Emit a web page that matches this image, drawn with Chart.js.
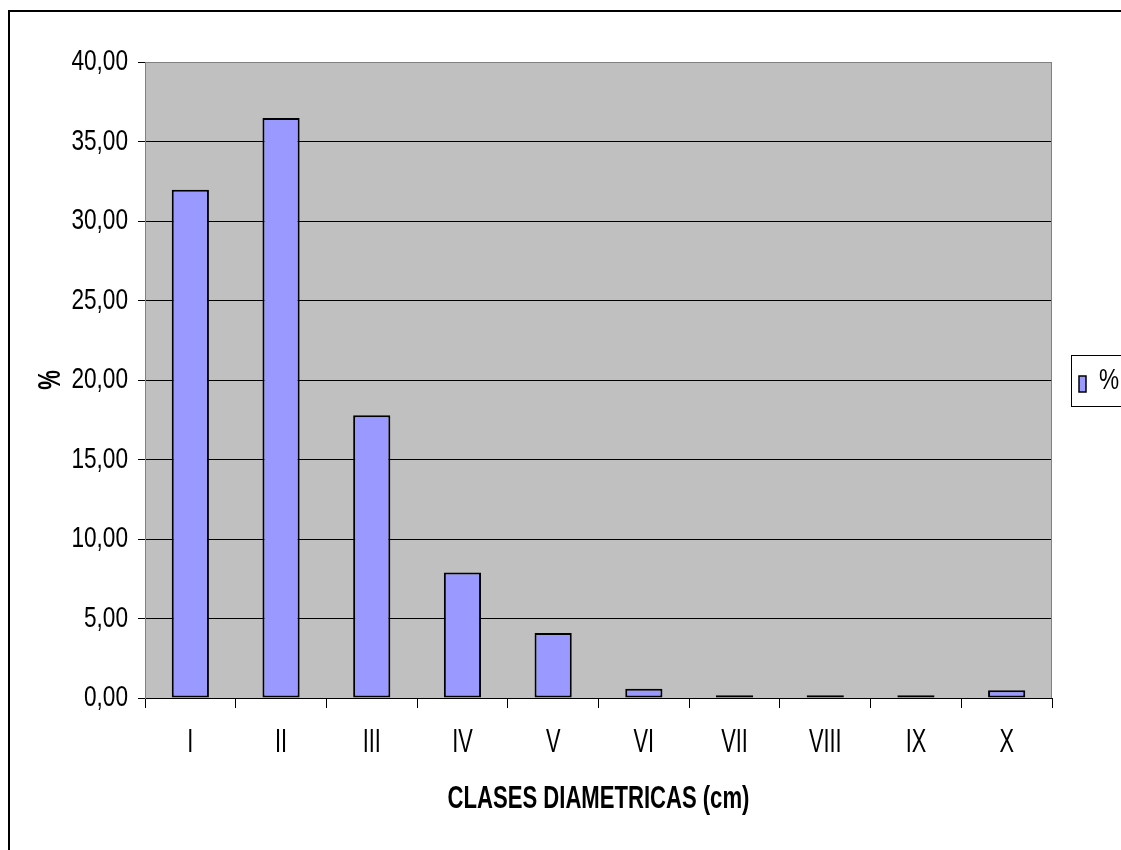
<!DOCTYPE html>
<html>
<head>
<meta charset="utf-8">
<script src="https://cdn.jsdelivr.net/npm/chart.js@4/dist/chart.umd.min.js"></script>
<style>
  html, body { margin: 0; padding: 0; background: #ffffff; }
  #wrap { position: relative; width: 1121px; height: 850px; overflow: hidden; }
  canvas { display: block; }
</style>
</head>
<body>
<div id="wrap"><canvas id="chart" width="1121" height="850"></canvas></div>
<script>
// Diameter classes and share of trees (%) in each class
const categories = ['I', 'II', 'III', 'IV', 'V', 'VI', 'VII', 'VIII', 'IX', 'X'];
const percentages = [31.97, 36.48, 17.78, 7.90, 4.09, 0.58, 0.18, 0.18, 0.18, 0.48];
const seriesName = '%';
const yTicksMin = 0;
const yTicksMax = 40;
const yTicksStep = 5;

const FONT = '"Liberation Sans", Arial, Helvetica, sans-serif';
// Sizes used for each text role (px)
const SIZE_Y_TICKS = 29;
const SIZE_X_TICKS = 33;
const SIZE_TITLES = 32;
// Horizontal condensing per font size, giving a narrow typeface look
const condense = { 29: 0.78, 33: 0.66, 32: 0.69 };

const canvas = document.getElementById('chart');
const context = canvas.getContext('2d');
const baseFillText = context.fillText.bind(context);
context.fillText = function (text, x, y, maxWidth) {
  const m = /(\d+(?:\.\d+)?)px/.exec(this.font);
  const k = m ? (condense[Math.round(parseFloat(m[1]))] || 1) : 1;
  if (k === 1) {
    return maxWidth === undefined ? baseFillText(text, x, y) : baseFillText(text, x, y, maxWidth);
  }
  this.save();
  this.translate(x, y);
  this.scale(k, 1);
  if (maxWidth === undefined) baseFillText(text, 0, 0);
  else baseFillText(text, 0, 0, maxWidth / k);
  this.restore();
};

// Frame, plot background and legend box drawn around the library's layout
const decorations = {
  id: 'decorations',
  beforeDraw(chart) {
    const { ctx, chartArea: a } = chart;
    ctx.save();
    ctx.fillStyle = '#ffffff';
    ctx.fillRect(0, 0, chart.width, chart.height);
    // outer chart frame
    ctx.strokeStyle = '#000000';
    ctx.lineWidth = 2;
    ctx.beginPath();
    ctx.moveTo(9, chart.height + 5);
    ctx.lineTo(9, 11);
    ctx.lineTo(chart.width + 5, 11);
    ctx.stroke();
    // plot area fill
    ctx.fillStyle = '#c0c0c0';
    ctx.fillRect(a.left, a.top, a.right - a.left, a.bottom - a.top);
    ctx.restore();
  },
  beforeDatasetsDraw(chart) {
    const { ctx, chartArea: a } = chart;
    ctx.save();
    ctx.strokeStyle = '#808080';
    ctx.lineWidth = 1;
    ctx.beginPath();
    ctx.moveTo(a.left + 0.5, a.top + 0.5);
    ctx.lineTo(a.right - 0.5, a.top + 0.5);
    ctx.lineTo(a.right - 0.5, a.bottom);
    ctx.stroke();
    ctx.restore();
  },
  afterDraw(chart) {
    const { ctx } = chart;
    const ds = chart.data.datasets[0];
    ctx.save();
    // legend box
    ctx.strokeStyle = '#000000';
    ctx.lineWidth = 1;
    ctx.strokeRect(1071.5, 355.5, 80, 51);
    // swatch
    ctx.fillStyle = ds.backgroundColor;
    ctx.fillRect(1079, 376, 7, 16);
    ctx.lineWidth = 1.5;
    ctx.strokeRect(1079, 376, 7, 16);
    // label
    ctx.fillStyle = '#000000';
    ctx.font = SIZE_Y_TICKS + 'px ' + FONT;
    ctx.textBaseline = 'middle';
    ctx.textAlign = 'left';
    ctx.fillText(ds.label, 1099, 381);
    ctx.restore();
  }
};

new Chart(canvas, {
  type: 'bar',
  data: {
    labels: categories,
    datasets: [{
      label: seriesName,
      data: percentages,
      backgroundColor: '#9999ff',
      borderColor: '#000000',
      borderWidth: 2,
      borderSkipped: false,
      barPercentage: 0.41,
      categoryPercentage: 1.0
    }]
  },
  options: {
    responsive: false,
    animation: false,
    devicePixelRatio: 1,
    layout: { padding: { top: 62, right: 69, bottom: 0, left: 0 } },
    plugins: {
      legend: { display: false },
      tooltip: { enabled: false }
    },
    scales: {
      x: {
        offset: true,
        grid: {
          offset: true,
          drawOnChartArea: false,
          drawTicks: true,
          tickLength: 10,
          color: '#000000'
        },
        border: { display: true, color: '#000000', width: 1 },
        ticks: {
          color: '#000000',
          padding: 15,
          maxRotation: 0,
          autoSkip: false,
          font: { family: FONT, size: SIZE_X_TICKS }
        },
        title: {
          display: true,
          text: 'CLASES DIAMETRICAS (cm)',
          color: '#000000',
          font: { family: FONT, size: SIZE_TITLES, weight: 'bold' },
          padding: { top: 0, bottom: 32 }
        },
        afterFit(scale) { scale.height = 152; }
      },
      y: {
        min: yTicksMin,
        max: yTicksMax,
        ticks: {
          stepSize: yTicksStep,
          color: '#000000',
          padding: 10,
          font: { family: FONT, size: SIZE_Y_TICKS },
          callback: (v) => Number(v).toFixed(2).replace('.', ',')
        },
        grid: {
          color: (c) => (c.tick && c.tick.value === yTicksMax ? '#808080' : '#000000'),
          tickColor: '#000000',
          tickLength: 7,
          lineWidth: 1
        },
        border: { display: true, color: '#808080', width: 1 },
        title: {
          display: true,
          text: '%',
          color: '#000000',
          font: { family: FONT, size: SIZE_TITLES, weight: 'bold' },
          padding: { top: 32, bottom: 0 }
        },
        afterFit(scale) { scale.width = 145; }
      }
    }
  },
  plugins: [decorations]
});
</script>
</body>
</html>
